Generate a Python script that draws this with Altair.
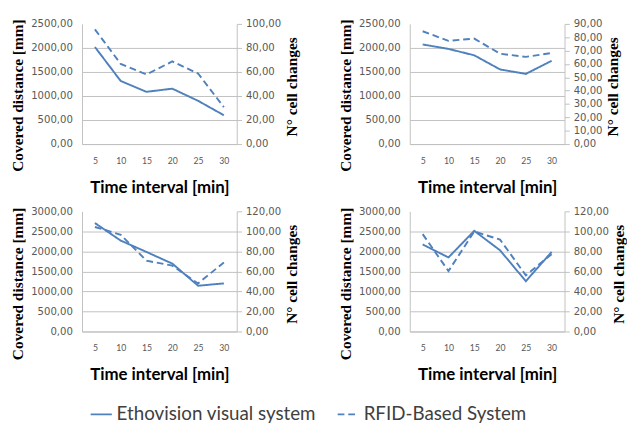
import altair as alt
import pandas as pd

times = [5, 10, 15, 20, 25, 30]
series_names = ["Ethovision visual system", "RFID-Based System"]

p1_etho = [2020, 1313, 1087, 1153, 900, 600]
p1_rfid = [95.5, 66.7, 58.0, 68.8, 58.7, 30.7]
p2_etho = [2073, 1980, 1847, 1553, 1460, 1733]
p2_rfid = [84.5, 77.3, 79.0, 67.7, 65.3, 68.2]
p3_etho = [2708, 2270, 1986, 1695, 1143, 1200]
p3_rfid = [104.4, 96.6, 70.7, 65.8, 48.0, 69.0]
p4_etho = [2173, 1849, 2514, 2027, 1257, 1986]
p4_rfid = [97.3, 60.3, 99.9, 91.8, 56.1, 77.2]

rows = []
for pid, (e, r) in enumerate([(p1_etho, p1_rfid), (p2_etho, p2_rfid),
                              (p3_etho, p3_rfid), (p4_etho, p4_rfid)], start=1):
    for t, v in zip(times, e):
        rows.append({"panel": pid, "time": t, "value": v, "series": series_names[0]})
    for t, v in zip(times, r):
        rows.append({"panel": pid, "time": t, "value": v, "series": series_names[1]})
df = pd.DataFrame(rows)

BLUE = "#4F81BD"
GRID = "#BFBFBF"
LBL = "#595959"
fmt = "replace(format(datum.value, '.2f'), '.', ',')"


def panel(pid, lmax, lstep, rmax, rstep, ltitle_y, rtitle_y, legend=False):
    base = alt.Chart(df).transform_filter(alt.datum.panel == pid)
    x = alt.X("time:O", title="Time interval [min]",
              axis=alt.Axis(labelAngle=0, ticks=False, domainColor=GRID,
                            labelFont="Lato", labelFontSize=9, labelColor=LBL,
                            labelPadding=13, titleFont="Lato", titleFontSize=17.5,
                            titleFontWeight="bold", titleColor="black",
                            titlePadding=14))
    dash = alt.StrokeDash(
        "series:N",
        scale=alt.Scale(domain=series_names, range=[[1, 0], [7, 4]]),
        legend=alt.Legend(orient="none", legendX=8, legendY=394, padding=0,
                          direction="horizontal", title=None,
                          symbolType="stroke", symbolStrokeColor=BLUE,
                          symbolStrokeWidth=2, symbolSize=484,
                          labelFont="Lato", labelFontSize=19.5,
                          labelColor="#404040", columnPadding=18,
                          labelOffset=4, labelLimit=400) if legend else None,
    )
    lvals = list(range(0, lmax + 1, lstep))
    rvals = list(range(0, rmax + 1, rstep))
    left = base.transform_filter(alt.datum.series == series_names[0]).mark_line(
        color=BLUE, strokeWidth=2).encode(
        x=x,
        y=alt.Y("value:Q", scale=alt.Scale(domain=[0, lmax], nice=False),
                axis=alt.Axis(orient="left", values=lvals, labelExpr=fmt,
                              title="Covered distance [mm]", ticks=False,
                              domainColor=GRID, gridColor=GRID,
                              gridOpacity={"condition": {"test": f"datum.value >= {lmax}", "value": 0}, "value": 1},
                              labelFont="DejaVu Sans", labelFontSize=10.5,
                              labelColor=LBL, labelPadding=10,
                              titleFont="Liberation Serif", titleFontSize=16,
                              titleFontWeight="bold", titleColor="black",
                              titlePadding=5, titleY=ltitle_y)),
        strokeDash=dash,
    )
    right = base.transform_filter(alt.datum.series == series_names[1]).mark_line(
        color=BLUE, strokeWidth=2).encode(
        x=x,
        y=alt.Y("value:Q", scale=alt.Scale(domain=[0, rmax], nice=False),
                axis=alt.Axis(orient="right", values=rvals, labelExpr=fmt,
                              title="N° cell changes", grid=False, ticks=True,
                              tickSize=5, tickColor=GRID, domainColor=GRID,
                              labelFont="DejaVu Sans", labelFontSize=10.5,
                              labelColor=LBL, labelPadding=4,
                              titleFont="Liberation Serif", titleFontSize=16,
                              titleFontWeight="bold", titleColor="black",
                              titleAngle=270, titleBaseline="top",
                              titlePadding=3, titleY=rtitle_y)),
        strokeDash=dash,
    )
    return alt.layer(left, right).resolve_scale(y="independent").properties(
        width=161, height=125)


top = alt.hconcat(panel(1, 2500, 500, 100, 20, 74, 65, legend=True),
                  panel(2, 2500, 500, 90, 10, 74, 65), spacing=40)
bottom = alt.hconcat(panel(3, 3000, 500, 120, 20, 75, 65),
                     panel(4, 3000, 500, 120, 20, 75, 65), spacing=40)
chart = alt.vconcat(top, bottom, spacing=11).resolve_scale(
    strokeDash="shared").configure_view(stroke=None).properties(
    padding={"left": 2, "top": 2, "right": 0, "bottom": 0},
    background="white")

chart.save("out.html", embed_options={"renderer": "svg", "actions": False})
